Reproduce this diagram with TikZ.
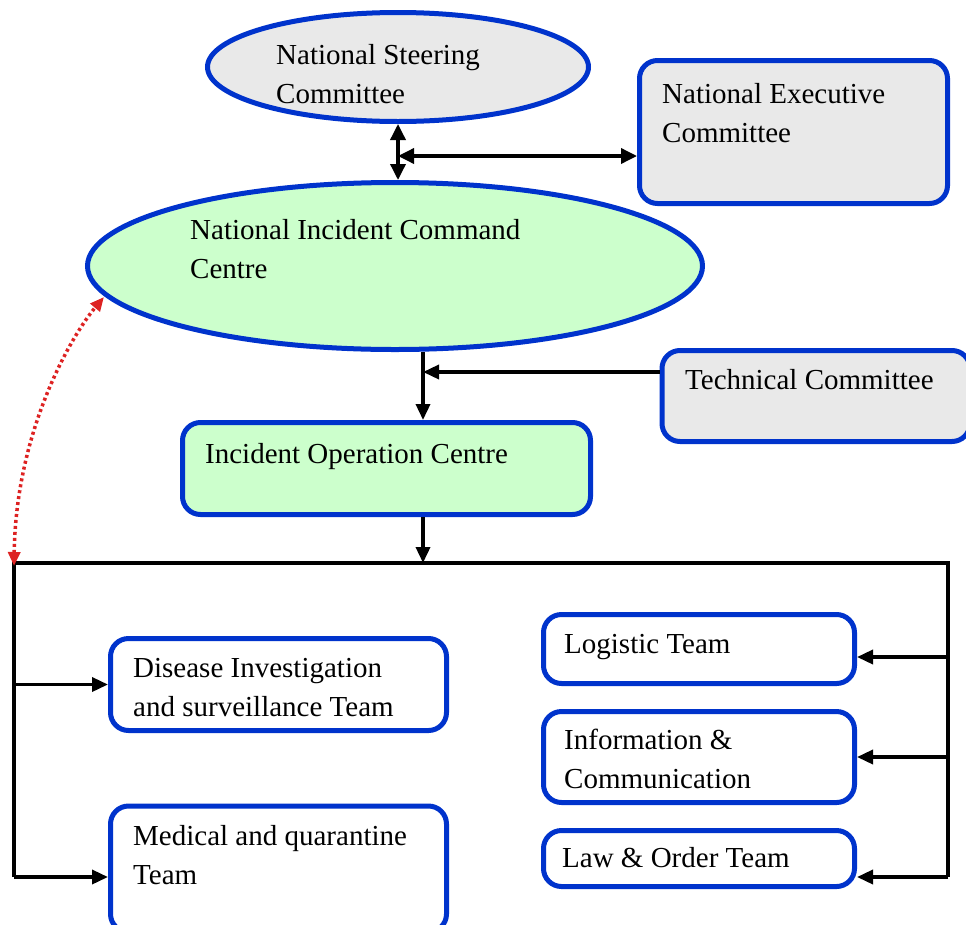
\documentclass[tikz,border=0pt]{standalone}
\usepackage{fontspec}
\setmainfont{Liberation Serif}
\usetikzlibrary{arrows.meta,shapes.geometric}
\definecolor{bordblue}{HTML}{0033CC}
\definecolor{boxgray}{HTML}{E9E9E9}
\definecolor{boxgreen}{HTML}{CCFFCC}
\definecolor{linkred}{HTML}{DD2222}
\begin{document}
\begin{tikzpicture}[x=1pt,y=-1pt,
    oval/.style={ellipse,draw=bordblue,line width=5pt,inner sep=0pt},
    unit/.style={rectangle,rounded corners=18pt,draw=bordblue,line width=5pt,inner sep=0pt},
    txt/.style={anchor=base west,align=left,inner sep=0pt,font=\fontsize{29}{38.5}\selectfont},
    wire/.style={line width=3.5pt},
    arr/.style={line width=3.5pt,-{Triangle[length=16pt,width=14pt]}},
    biarr/.style={line width=3.5pt,{Triangle[length=16pt,width=15pt]}-{Triangle[length=16pt,width=15pt]}},
    link/.style={linkred,line width=3.5pt,dash pattern=on 3pt off 3pt,{Triangle[length=14pt,width=12pt]}-{Triangle[length=14pt,width=12pt]}}]
    \useasboundingbox (0,0) rectangle (966,924);
    % top committees
    \node[oval,fill=boxgray,minimum width=381pt,minimum height=109pt] (nsc) at (398,67) {};
    \node[txt] (nsc-t) at (276,103) {National Steering\\Committee};
    \node[unit,fill=boxgray,minimum width=308pt,minimum height=143pt] (nec) at (793.5,132) {};
    \node[txt] (nec-t) at (662,142) {National Executive\\Committee};
    % command centre
    \node[oval,fill=boxgreen,minimum width=615pt,minimum height=167pt] (nicc) at (395,266) {};
    \node[txt] (nicc-t) at (190,278) {National Incident Command\\Centre};
    \node[unit,fill=boxgray,minimum width=308pt,minimum height=91pt] (tc) at (816,396) {};
    \node[txt] (tc-t) at (685,389) {Technical Committee};
    \node[unit,fill=boxgreen,minimum width=408pt,minimum height=92pt] (ioc) at (386.5,468.5) {};
    \node[txt] (ioc-t) at (205,463) {Incident Operation Centre};
    % teams
    \node[unit,fill=white,minimum width=336pt,minimum height=92pt] (dis) at (278.5,684.5) {};
    \node[txt] (dis-t) at (133,716) {Disease Investigation\\and surveillance Team};
    \node[unit,fill=white,minimum width=336pt,minimum height=126pt] (mq) at (278.5,869) {};
    \node[txt] (mq-t) at (133,884) {Medical and quarantine\\Team};
    \node[unit,fill=white,minimum width=311pt,minimum height=69pt] (log) at (699,649) {};
    \node[txt] (log-t) at (564,653) {Logistic Team};
    \node[unit,fill=white,minimum width=311pt,minimum height=91pt] (info) at (699,757) {};
    \node[txt] (info-t) at (564,788) {Information \&\\Communication};
    \node[unit,fill=white,minimum width=311pt,minimum height=56pt] (law) at (699,858.5) {};
    \node[txt] (law-t) at (562,867) {Law \& Order Team};
    % connectors
    \coordinate (jn) at (398,156);
    \coordinate (tcj) at (423,372);
    \coordinate (busl) at (14,563);
    \coordinate (busr) at (948,563);
    \coordinate (endl) at (14,877);
    \coordinate (endr) at (948,877);
    \coordinate (nicc-sw) at (104,297);
    \draw[biarr] (nsc.south) -- (nsc.south |- nicc.north);
    \draw[biarr] (jn) -- (jn -| nec.west);
    \draw[arr] (tcj |- nicc.south) -- (tcj |- ioc.north);
    \draw[arr] (tc.west |- tcj) -- (tcj);
    \draw[arr] (tcj |- ioc.south) -- (tcj |- busl);
    \draw[wire] (endl) -- (busl) -- (busr) -- (endr);
    \draw[arr] (busl |- dis.west) -- (dis.west);
    \draw[arr] (endl) -- (endl -| mq.west);
    \draw[arr] (busr |- 0,657) -- (log.east |- 0,657);
    \draw[arr] (busr |- info.east) -- (info.east);
    \draw[arr] (endr) -- (endr -| law.east);
    \draw[link] ([yshift=-3pt]busl) .. controls (16,430) and (72,335) .. (nicc-sw);
\end{tikzpicture}
\end{document}
